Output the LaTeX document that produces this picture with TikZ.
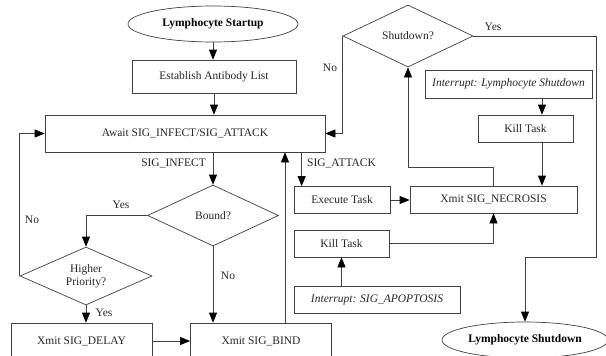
\documentclass[tikz,border=0pt]{standalone}
\usepackage{fontspec}
\setmainfont{Liberation Serif}
\usetikzlibrary{shapes.geometric,arrows.meta}
\tikzset{
	proc/.style={draw=black!75,line width=0.7pt,rectangle,inner sep=0pt,text=black!85},
	dec/.style={draw=black!75,line width=0.7pt,diamond,aspect=2.2,inner sep=1pt,align=center,text=black!85},
	term/.style={draw=black!75,line width=0.7pt,ellipse,inner sep=0pt,font=\fontsize{11.5}{13.5}\selectfont\bfseries,text=black},
	lab/.style={inner sep=1pt,text=black!85},
	flow/.style={draw=black!75,line width=0.7pt,-{Triangle[length=10pt,width=8pt,color=black]}},
}

\begin{document}
\begin{tikzpicture}[x=1pt,y=-1pt,every node/.style={font=\fontsize{11.5}{13.5}\selectfont}]
	\useasboundingbox (0,0) rectangle (606,356);
	\clip (0,0) rectangle (606,356);

	\node[term,minimum width=170pt,minimum height=36pt] (start) at (213,24) {Lymphocyte Startup};
	\node[proc,minimum width=164pt,minimum height=33pt] (estab) at (214,76.5) {Establish Antibody List};
	\node[proc,minimum width=280pt,minimum height=37pt] (await) at (185,133.5) {Await SIG\_INFECT/SIG\_ATTACK};
	\node[dec,minimum width=131pt,minimum height=61pt] (bound) at (213,215.5) {Bound?};
	\node[dec,minimum width=132pt,minimum height=58pt] (prio) at (86,276) {Higher\\Priority?};
	\node[proc,minimum width=141pt,minimum height=36pt] (delay) at (81.5,341) {Xmit SIG\_DELAY};
	\node[proc,minimum width=141pt,minimum height=36pt] (bind) at (261,341) {Xmit SIG\_BIND};
	\node[proc,minimum width=96pt,minimum height=27pt] (exec) at (342,200) {Execute Task};
	\node[proc,minimum width=167pt,minimum height=27pt] (necro) at (493.5,199.5) {Xmit SIG\_NECROSIS};
	\node[proc,minimum width=95pt,minimum height=27pt] (kill1) at (341.5,243.5) {Kill Task};
	\node[proc,minimum width=166pt,minimum height=27pt] (apop) at (377,299.5) {\itshape Interrupt: SIG\_APOPTOSIS};
	\node[dec,minimum width=130pt,minimum height=62pt] (shut) at (408,36) {Shutdown?};
	\node[proc,minimum width=167pt,minimum height=28pt] (intr) at (508.5,84) {\itshape Interrupt: Lymphocyte Shutdown};
	\node[proc,minimum width=95pt,minimum height=27pt] (kill2) at (525.5,128.5) {Kill Task};
	\node[term,minimum width=166pt,minimum height=36pt] (endn) at (525,340) {Lymphocyte Shutdown};

	% labels on the branches
	\node[lab,anchor=east] (linfect) at (207,163) {SIG\_INFECT};
	\node[lab,anchor=west] (lattack) at (306,163) {SIG\_ATTACK};
	\node[lab] (lbyes) at (121,205) {Yes};
	\node[lab] (lbno) at (228,276) {No};
	\node[lab] (lpno) at (32,220) {No};
	\node[lab] (lpyes) at (104,313) {Yes};
	\node[lab] (lsno) at (330,68) {No};
	\node[lab] (lsyes) at (493,27) {Yes};

	\coordinate (bindup) at ([xshift=24pt]bind.north);
	\coordinate (attack) at ([xshift=8pt]exec.north west);
	\coordinate (necturn) at (493.5,167);
	\coordinate (rturn) at (596,257);
	\coordinate (killx) at ([xshift=16.5pt]kill2.north);
	\coordinate (killy) at ([xshift=16.5pt]kill2.south);

	\draw[flow] (start.south) -- (start.south |- estab.north);
	\draw[flow] (estab.south) -- (estab.south |- await.north);
	\draw[flow] (bound.north |- await.south) -- (bound.north);
	\draw[flow] (bound.west) -| (prio.north);
	\draw[flow] (prio.west) |- (await.west);
	\draw[flow] (prio.south) -- (prio.south |- delay.north);
	\draw[flow] (bound.south) -- (bound.south |- bind.north);
	\draw[flow] (delay.east) -- (bind.west);
	\draw[flow] (bindup) -- (bindup |- await.south);
	\draw[flow] (attack |- await.south) -- (attack);
	\draw[flow] (exec.east) -- (exec.east -| necro.west);
	\draw[flow] (kill1.east) -| (necro.south);
	\draw[flow] (kill1.south |- apop.north) -- (kill1.south);
	\draw[flow] (necro.north) -- (necturn) -| (shut.south);
	\draw[flow] (shut.west) |- (await.east);
	\draw[flow] (shut.east) -| (rturn) -| (endn.north);
	\draw[flow] (killx |- intr.south) -- (killx);
	\draw[flow] (killy) -- (killy |- necro.north);
\end{tikzpicture}
\end{document}
